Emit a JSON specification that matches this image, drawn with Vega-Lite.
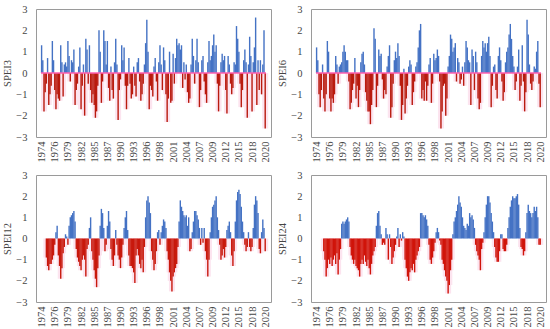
{
"$schema": "https://vega.github.io/schema/vega-lite/v6.json",
"background": "white",
"padding": {"left": 2, "top": 3, "right": 2, "bottom": 0},
"config": {
 "font": "Liberation Serif",
 "view": {"stroke": "#9a9a9a", "strokeWidth": 1},
 "axis": {"labelFont": "Liberation Serif", "labelFontSize": 10.5, "labelColor": "#454545", "titleFont": "Liberation Serif", "titleFontSize": 10.5, "titleFontWeight": "normal", "titleColor": "#454545", "grid": false, "ticks": false, "domain": false, "labelOverlap": false, "labelFlush": false, "labelBound": false}
},
"data": {"values": [
{"t":0,"s3":1.3,"s6":1.2,"s12":null,"s24":null},{"t":3,"s3":0.6,"s6":0.6,"s12":null,"s24":null},{"t":6,"s3":-1.8,"s6":-1.0,"s12":null,"s24":null},{"t":9,"s3":-0.9,"s6":-1.6,"s12":null,"s24":null},
{"t":12,"s3":-0.5,"s6":-0.8,"s12":-0.9,"s24":null},{"t":15,"s3":0.7,"s6":0.4,"s12":-1.3,"s24":null},{"t":18,"s3":-1.5,"s6":-1.2,"s12":-1.5,"s24":-0.6},{"t":21,"s3":-1.0,"s6":-1.8,"s12":-1.2,"s24":-1.0},
{"t":24,"s3":-0.6,"s6":-1.0,"s12":-1.2,"s24":-1.8},{"t":27,"s3":1.5,"s6":1.5,"s12":-1.0,"s24":-1.4},{"t":30,"s3":0.6,"s6":1.0,"s12":-0.8,"s24":-1.0},{"t":33,"s3":-0.8,"s6":-1.2,"s12":-0.3,"s24":-1.2},
{"t":36,"s3":-1.7,"s6":-1.8,"s12":0.3,"s24":-0.9},{"t":39,"s3":-1.0,"s6":-1.2,"s12":0.6,"s24":-1.3},{"t":42,"s3":-1.2,"s6":-1.4,"s12":-0.8,"s24":-1.0},{"t":45,"s3":-1.3,"s6":-1.0,"s12":-1.3,"s24":-0.8},
{"t":48,"s3":1.3,"s6":0.8,"s12":-1.9,"s24":-1.2},{"t":51,"s3":0.5,"s6":0.4,"s12":-1.4,"s24":-0.7},{"t":54,"s3":-1.1,"s6":-0.5,"s12":-0.7,"s24":-1.7},{"t":57,"s3":0.4,"s6":0.3,"s12":-0.4,"s24":-1.0},
{"t":60,"s3":0.5,"s6":0.4,"s12":0.2,"s24":-0.5},{"t":63,"s3":0.3,"s6":0.5,"s12":0.1,"s24":0.7},{"t":66,"s3":1.5,"s6":1.0,"s12":-0.3,"s24":0.8},{"t":69,"s3":0.8,"s6":1.3,"s12":0.6,"s24":0.7},
{"t":72,"s3":-0.4,"s6":1.0,"s12":1.0,"s24":0.8},{"t":75,"s3":0.6,"s6":0.6,"s12":1.1,"s24":0.9},{"t":78,"s3":0.5,"s6":0.6,"s12":1.2,"s24":1.0},{"t":81,"s3":1.1,"s6":-0.4,"s12":1.3,"s24":0.8},
{"t":84,"s3":-1.5,"s6":-1.7,"s12":0.8,"s24":-0.4},{"t":87,"s3":-0.8,"s6":-1.4,"s12":-0.5,"s24":-0.8},{"t":90,"s3":-0.5,"s6":-0.8,"s12":-0.9,"s24":-1.0},{"t":93,"s3":0.3,"s6":-0.5,"s12":-1.1,"s24":-1.2},
{"t":96,"s3":1.2,"s6":0.7,"s12":-1.3,"s24":-1.0},{"t":99,"s3":-1.7,"s6":-1.2,"s12":-1.5,"s24":-1.3},{"t":102,"s3":-0.6,"s6":-0.6,"s12":-1.0,"s24":-1.4},{"t":105,"s3":0.4,"s6":-1.6,"s12":-0.8,"s24":-1.5},
{"t":108,"s3":-2.0,"s6":-0.8,"s12":-1.0,"s24":-1.8},{"t":111,"s3":1.6,"s6":0.5,"s12":-1.8,"s24":-1.2},{"t":114,"s3":1.1,"s6":0.9,"s12":-0.5,"s24":-1.0},{"t":117,"s3":-0.5,"s6":1.0,"s12":-0.3,"s24":-1.2},
{"t":120,"s3":1.3,"s6":0.4,"s12":0.5,"s24":-0.8},{"t":123,"s3":-0.8,"s6":-0.9,"s12":1.0,"s24":-1.1},{"t":126,"s3":-1.4,"s6":-1.3,"s12":-0.6,"s24":-1.3},{"t":129,"s3":-1.0,"s6":-1.8,"s12":-1.0,"s24":-1.0},
{"t":132,"s3":-1.5,"s6":-1.8,"s12":-1.5,"s24":-1.4},{"t":135,"s3":-2.1,"s6":-2.4,"s12":-1.9,"s24":-1.7},{"t":138,"s3":-1.8,"s6":-1.5,"s12":-2.3,"s24":-1.2},{"t":141,"s3":-0.6,"s6":-0.8,"s12":-1.4,"s24":-0.8},
{"t":144,"s3":2.0,"s6":2.1,"s12":-0.8,"s24":-0.6},{"t":147,"s3":1.0,"s6":1.6,"s12":0.6,"s24":-0.4},{"t":150,"s3":-1.4,"s6":-1.6,"s12":1.4,"s24":0.6},{"t":153,"s3":-0.4,"s6":-0.6,"s12":1.2,"s24":1.2},
{"t":156,"s3":2.0,"s6":1.1,"s12":0.5,"s24":1.3},{"t":159,"s3":1.5,"s6":0.8,"s12":-0.6,"s24":0.6},{"t":162,"s3":0.4,"s6":0.9,"s12":-0.3,"s24":0.2},{"t":165,"s3":1.5,"s6":-0.3,"s12":0.6,"s24":-0.3},
{"t":168,"s3":-0.7,"s6":-1.2,"s12":1.3,"s24":-0.2},{"t":171,"s3":-1.3,"s6":-0.8,"s12":0.8,"s24":-0.3},{"t":174,"s3":0.3,"s6":-1.0,"s12":-0.5,"s24":0.5},{"t":177,"s3":-0.8,"s6":0.3,"s12":-1.0,"s24":0.2},
{"t":180,"s3":-1.2,"s6":0.8,"s12":-1.3,"s24":-1.0},{"t":183,"s3":0.5,"s6":1.3,"s12":-0.8,"s24":0.2},{"t":186,"s3":1.6,"s6":-2.1,"s12":0.4,"s24":-0.4},{"t":189,"s3":0.4,"s6":-1.6,"s12":-0.3,"s24":-1.2},
{"t":192,"s3":-2.2,"s6":-0.5,"s12":-0.8,"s24":-0.9},{"t":195,"s3":-0.8,"s6":0.6,"s12":-1.0,"s24":-0.6},{"t":198,"s3":-0.3,"s6":1.0,"s12":-1.4,"s24":-0.3},{"t":201,"s3":1.3,"s6":0.7,"s12":-0.9,"s24":0.1},
{"t":204,"s3":0.6,"s6":1.4,"s12":-0.3,"s24":0.5},{"t":207,"s3":1.2,"s6":0.8,"s12":0.5,"s24":-0.4},{"t":210,"s3":-0.6,"s6":-0.6,"s12":1.0,"s24":0.2},{"t":213,"s3":-1.7,"s6":-2.2,"s12":1.3,"s24":-0.1},
{"t":216,"s3":-0.6,"s6":-1.5,"s12":0.4,"s24":0.3},{"t":219,"s3":0.7,"s6":0.2,"s12":-0.8,"s24":0.1},{"t":222,"s3":-0.5,"s6":-1.9,"s12":-1.3,"s24":-1.0},{"t":225,"s3":-1.2,"s6":-1.2,"s12":-1.3,"s24":-1.4},
{"t":228,"s3":-1.0,"s6":-0.6,"s12":-1.4,"s24":-1.8},{"t":231,"s3":0.3,"s6":0.3,"s12":-1.6,"s24":-2.0},{"t":234,"s3":-0.6,"s6":0.6,"s12":-2.1,"s24":-1.6},{"t":237,"s3":-1.1,"s6":0.4,"s12":-0.8,"s24":-1.4},
{"t":240,"s3":0.5,"s6":-1.5,"s12":-0.5,"s24":-1.5},{"t":243,"s3":0.7,"s6":-0.9,"s12":-0.8,"s24":-1.2},{"t":246,"s3":-0.4,"s6":-0.4,"s12":-1.2,"s24":-1.6},{"t":249,"s3":-1.3,"s6":0.3,"s12":-1.4,"s24":-1.0},
{"t":252,"s3":-1.0,"s6":0.5,"s12":-1.0,"s24":-0.8},{"t":255,"s3":-0.5,"s6":1.2,"s12":-1.6,"s24":-0.6},{"t":258,"s3":0.4,"s6":2.0,"s12":-0.4,"s24":-0.4},{"t":261,"s3":1.4,"s6":2.3,"s12":1.0,"s24":1.2},
{"t":264,"s3":2.5,"s6":-1.2,"s12":1.8,"s24":1.2},{"t":267,"s3":1.0,"s6":-0.8,"s12":2.0,"s24":1.1},{"t":270,"s3":-1.7,"s6":-1.3,"s12":1.7,"s24":1.0},{"t":273,"s3":-0.6,"s6":-0.4,"s12":1.2,"s24":1.1},
{"t":276,"s3":-0.8,"s6":-1.3,"s12":-0.6,"s24":0.9},{"t":279,"s3":-1.1,"s6":-0.6,"s12":-1.0,"s24":0.6},{"t":282,"s3":0.3,"s6":0.4,"s12":-1.5,"s24":-0.3},{"t":285,"s3":0.7,"s6":0.7,"s12":-1.2,"s24":-1.0},
{"t":288,"s3":-0.4,"s6":-1.4,"s12":-0.6,"s24":-1.2},{"t":291,"s3":-1.3,"s6":-0.5,"s12":0.3,"s24":-0.9},{"t":294,"s3":0.5,"s6":0.9,"s12":0.4,"s24":-0.6},{"t":297,"s3":1.3,"s6":0.6,"s12":-0.3,"s24":-0.2},
{"t":300,"s3":0.4,"s6":0.7,"s12":0.3,"s24":0.3},{"t":303,"s3":-0.8,"s6":1.1,"s12":0.6,"s24":0.5},{"t":306,"s3":1.2,"s6":0.8,"s12":0.9,"s24":0.3},{"t":309,"s3":0.6,"s6":-0.4,"s12":0.8,"s24":-0.1},
{"t":312,"s3":-1.0,"s6":-2.6,"s12":0.5,"s24":-0.3},{"t":315,"s3":-2.3,"s6":-1.8,"s12":-0.6,"s24":-1.0},{"t":318,"s3":-1.2,"s6":-0.6,"s12":-1.0,"s24":-1.2},{"t":321,"s3":1.0,"s6":-0.5,"s12":-1.6,"s24":-1.5},
{"t":324,"s3":-1.4,"s6":-2.0,"s12":-2.0,"s24":-1.8},{"t":327,"s3":-1.3,"s6":-1.2,"s12":-2.5,"s24":-2.0},{"t":330,"s3":0.9,"s6":0.3,"s12":-1.8,"s24":-2.6},{"t":333,"s3":-0.5,"s6":0.8,"s12":-1.6,"s24":-2.2},
{"t":336,"s3":0.7,"s6":1.8,"s12":-1.4,"s24":-1.5},{"t":339,"s3":1.6,"s6":1.6,"s12":-1.2,"s24":-1.0},{"t":342,"s3":1.3,"s6":1.0,"s12":-0.4,"s24":0.2},{"t":345,"s3":1.4,"s6":1.2,"s12":0.8,"s24":0.8},
{"t":348,"s3":1.1,"s6":1.4,"s12":1.8,"s24":1.0},{"t":351,"s3":1.3,"s6":-0.4,"s12":1.5,"s24":1.3},{"t":354,"s3":-0.7,"s6":0.7,"s12":1.3,"s24":1.6},{"t":357,"s3":0.5,"s6":0.5,"s12":1.1,"s24":2.0},
{"t":360,"s3":-0.3,"s6":-0.5,"s12":1.0,"s24":1.7},{"t":363,"s3":0.4,"s6":-0.3,"s12":1.1,"s24":1.5},{"t":366,"s3":-0.9,"s6":0.3,"s12":0.6,"s24":1.0},{"t":369,"s3":-1.4,"s6":-0.6,"s12":1.0,"s24":0.6},
{"t":372,"s3":-1.2,"s6":0.5,"s12":-0.6,"s24":0.5},{"t":375,"s3":0.4,"s6":1.5,"s12":-0.5,"s24":0.4},{"t":378,"s3":1.6,"s6":1.2,"s12":0.3,"s24":0.7},{"t":381,"s3":0.8,"s6":0.6,"s12":0.8,"s24":0.6},
{"t":384,"s3":-0.5,"s6":0.5,"s12":1.3,"s24":1.2},{"t":387,"s3":0.6,"s6":-1.5,"s12":1.3,"s24":1.0},{"t":390,"s3":1.6,"s6":1.1,"s12":1.1,"s24":1.1},{"t":393,"s3":0.5,"s6":0.8,"s12":0.9,"s24":0.9},
{"t":396,"s3":-1.6,"s6":-0.8,"s12":0.5,"s24":0.5},{"t":399,"s3":-0.8,"s6":1.0,"s12":-0.3,"s24":-0.3},{"t":402,"s3":0.6,"s6":0.5,"s12":0.5,"s24":-0.6},{"t":405,"s3":0.8,"s6":-1.2,"s12":-0.2,"s24":-0.8},
{"t":408,"s3":-0.4,"s6":-1.7,"s12":0.5,"s24":-1.0},{"t":411,"s3":-1.0,"s6":-1.4,"s12":-0.6,"s24":-1.5},{"t":414,"s3":-1.4,"s6":0.8,"s12":-1.0,"s24":-0.5},{"t":417,"s3":0.5,"s6":1.5,"s12":-1.8,"s24":-0.2},
{"t":420,"s3":1.5,"s6":1.2,"s12":-1.0,"s24":0.3},{"t":423,"s3":0.6,"s6":1.4,"s12":0.3,"s24":1.0},{"t":426,"s3":0.8,"s6":1.0,"s12":1.0,"s24":1.6},{"t":429,"s3":1.3,"s6":1.4,"s12":1.5,"s24":2.0},
{"t":432,"s3":1.8,"s6":1.7,"s12":1.6,"s24":2.0},{"t":435,"s3":1.0,"s6":0.8,"s12":1.8,"s24":1.7},{"t":438,"s3":1.3,"s6":-1.6,"s12":2.0,"s24":1.2},{"t":441,"s3":-0.5,"s6":-0.6,"s12":1.0,"s24":0.8},
{"t":444,"s3":-1.8,"s6":0.3,"s12":0.4,"s24":0.3},{"t":447,"s3":-0.6,"s6":0.4,"s12":-0.3,"s24":-0.4},{"t":450,"s3":0.5,"s6":-0.8,"s12":-1.0,"s24":-0.9},{"t":453,"s3":0.9,"s6":-1.2,"s12":-0.8,"s24":-1.1},
{"t":456,"s3":0.6,"s6":0.8,"s12":-0.5,"s24":-1.1},{"t":459,"s3":0.8,"s6":1.2,"s12":-0.9,"s24":-0.6},{"t":462,"s3":-0.8,"s6":0.6,"s12":-0.4,"s24":0.2},{"t":465,"s3":-1.9,"s6":-0.4,"s12":0.4,"s24":0.2},
{"t":468,"s3":0.8,"s6":-1.3,"s12":0.6,"s24":-0.5},{"t":471,"s3":0.4,"s6":-0.9,"s12":0.8,"s24":-0.6},{"t":474,"s3":-0.5,"s6":0.5,"s12":0.3,"s24":-0.6},{"t":477,"s3":-1.0,"s6":1.0,"s12":-0.8,"s24":-0.3},
{"t":480,"s3":-0.7,"s6":1.2,"s12":-1.3,"s24":0.5},{"t":483,"s3":0.5,"s6":1.8,"s12":-0.6,"s24":1.0},{"t":486,"s3":0.4,"s6":2.3,"s12":0.8,"s24":1.5},{"t":489,"s3":2.2,"s6":1.6,"s12":1.8,"s24":1.8},
{"t":492,"s3":1.6,"s6":0.8,"s12":2.2,"s24":2.0},{"t":495,"s3":1.0,"s6":0.3,"s12":2.3,"s24":1.9},{"t":498,"s3":-0.5,"s6":-0.8,"s12":2.1,"s24":1.9},{"t":501,"s3":-1.6,"s6":-0.4,"s12":1.5,"s24":2.0},
{"t":504,"s3":-0.8,"s6":0.3,"s12":0.8,"s24":2.1},{"t":507,"s3":0.6,"s6":1.1,"s12":0.3,"s24":1.6},{"t":510,"s3":1.1,"s6":-1.3,"s12":-0.3,"s24":0.5},{"t":513,"s3":0.5,"s6":-0.6,"s12":-0.6,"s24":-0.4},
{"t":516,"s3":-2.1,"s6":1.3,"s12":-0.4,"s24":-0.5},{"t":519,"s3":0.4,"s6":-0.4,"s12":0.3,"s24":-0.8},{"t":522,"s3":1.7,"s6":-1.8,"s12":-0.4,"s24":-0.6},{"t":525,"s3":0.8,"s6":-0.9,"s12":-0.6,"s24":0.3},
{"t":528,"s3":-1.8,"s6":2.5,"s12":-0.4,"s24":1.2},{"t":531,"s3":0.5,"s6":1.8,"s12":0.5,"s24":1.6},{"t":534,"s3":1.2,"s6":0.4,"s12":1.6,"s24":1.3},{"t":537,"s3":2.6,"s6":-0.5,"s12":2.0,"s24":1.2},
{"t":540,"s3":-1.5,"s6":-0.8,"s12":1.8,"s24":1.0},{"t":543,"s3":0.6,"s6":-0.4,"s12":1.2,"s24":1.2},{"t":546,"s3":-0.8,"s6":0.3,"s12":-0.5,"s24":1.5},{"t":549,"s3":0.6,"s6":0.2,"s12":-0.7,"s24":1.3},
{"t":552,"s3":-1.0,"s6":1.0,"s12":0.3,"s24":1.5},{"t":555,"s3":0.4,"s6":1.5,"s12":0.9,"s24":1.0},{"t":558,"s3":2.0,"s6":-0.5,"s12":0.5,"s24":-0.3},{"t":561,"s3":-2.6,"s6":-1.6,"s12":-0.6,"s24":-0.3}
]},
"spacing": 6,
"vconcat": [
{"spacing": 5, "hconcat": [
 {"width": 235, "height": 128,
  "encoding": {
   "x": {"field": "t", "type": "quantitative", "scale": {"domain": [-1.5, 563]}, "axis": {"values": [0,33,66,99,132,165,198,231,264,297,330,363,396,429,462,495,528,561], "labelExpr": "floor(1974 + datum.value / 12)", "labelAngle": -90, "labelPadding": 4, "title": null}},
   "y": {"field": "s3", "type": "quantitative", "scale": {"domain": [-3, 3]}, "axis": {"values": [-3,-2,-1,0,1,2,3], "title": "SPEI3", "labelPadding": 9, "titlePadding": 3}}},
  "layer": [
  {"transform": [{"filter": "datum.s3 < 0"}], "mark": {"type": "bar", "width": 6, "color": "#FCE4EF", "clip": true}},
  {"mark": {"type": "bar", "width": 1.4, "clip": true},
   "encoding": {"color": {"condition": {"test": "datum.s3 >= 0", "value": "#4472C4"}, "value": "#B91A0E"}}},
  {"transform": [{"filter": "datum.t == 0"}], "mark": {"type": "rule", "color": "#FF5FB0", "strokeWidth": 1.5},
   "encoding": {"x": {"datum": -1.5}, "x2": {"datum": 563}, "y": {"datum": 0}}}
 ]},
 {"width": 235, "height": 128,
  "encoding": {
   "x": {"field": "t", "type": "quantitative", "scale": {"domain": [-1.5, 563]}, "axis": {"values": [0,33,66,99,132,165,198,231,264,297,330,363,396,429,462,495,528,561], "labelExpr": "floor(1974 + datum.value / 12)", "labelAngle": -90, "labelPadding": 4, "title": null}},
   "y": {"field": "s6", "type": "quantitative", "scale": {"domain": [-3, 3]}, "axis": {"values": [-3,-2,-1,0,1,2,3], "title": "SPEI6", "labelPadding": 9, "titlePadding": 3}}},
  "layer": [
  {"transform": [{"filter": "datum.s6 < 0"}], "mark": {"type": "bar", "width": 6, "color": "#FCE4EF", "clip": true}},
  {"mark": {"type": "bar", "width": 1.4, "clip": true},
   "encoding": {"color": {"condition": {"test": "datum.s6 >= 0", "value": "#4472C4"}, "value": "#B91A0E"}}},
  {"transform": [{"filter": "datum.t == 0"}], "mark": {"type": "rule", "color": "#FF5FB0", "strokeWidth": 1.5},
   "encoding": {"x": {"datum": -1.5}, "x2": {"datum": 563}, "y": {"datum": 0}}}
 ]}
]},
{"spacing": 5, "hconcat": [
 {"width": 235, "height": 127,
  "encoding": {
   "x": {"field": "t", "type": "quantitative", "scale": {"domain": [-1.5, 563]}, "axis": {"values": [0,33,66,99,132,165,198,231,264,297,330,363,396,429,462,495,528,561], "labelExpr": "floor(1974 + datum.value / 12)", "labelAngle": -90, "labelPadding": 4, "title": null}},
   "y": {"field": "s12", "type": "quantitative", "scale": {"domain": [-3, 3]}, "axis": {"values": [-3,-2,-1,0,1,2,3], "title": "SPEI12", "labelPadding": 9, "titlePadding": 3}}},
  "layer": [
  {"transform": [{"filter": "datum.s12 < 0"}], "mark": {"type": "bar", "width": 6, "color": "#FCE4EF", "clip": true}},
  {"mark": {"type": "bar", "width": 1.4, "clip": true},
   "encoding": {"color": {"condition": {"test": "datum.s12 >= 0", "value": "#4472C4"}, "value": "#C8180C"}}},
  {"transform": [{"filter": "datum.t == 0"}], "mark": {"type": "rule", "color": "#FF5FB0", "strokeWidth": 1.5},
   "encoding": {"x": {"datum": -1.5}, "x2": {"datum": 563}, "y": {"datum": 0}}}
 ]},
 {"width": 235, "height": 127,
  "encoding": {
   "x": {"field": "t", "type": "quantitative", "scale": {"domain": [-1.5, 563]}, "axis": {"values": [0,33,66,99,132,165,198,231,264,297,330,363,396,429,462,495,528,561], "labelExpr": "floor(1974 + datum.value / 12)", "labelAngle": -90, "labelPadding": 4, "title": null}},
   "y": {"field": "s24", "type": "quantitative", "scale": {"domain": [-3, 3]}, "axis": {"values": [-3,-2,-1,0,1,2,3], "title": "SPEI24", "labelPadding": 9, "titlePadding": 3}}},
  "layer": [
  {"transform": [{"filter": "datum.s24 < 0"}], "mark": {"type": "bar", "width": 6, "color": "#FCE4EF", "clip": true}},
  {"mark": {"type": "bar", "width": 1.4, "clip": true},
   "encoding": {"color": {"condition": {"test": "datum.s24 >= 0", "value": "#4472C4"}, "value": "#D0140A"}}},
  {"transform": [{"filter": "datum.t == 0"}], "mark": {"type": "rule", "color": "#FF5FB0", "strokeWidth": 1.5},
   "encoding": {"x": {"datum": -1.5}, "x2": {"datum": 563}, "y": {"datum": 0}}}
 ]}
]}
]
}
